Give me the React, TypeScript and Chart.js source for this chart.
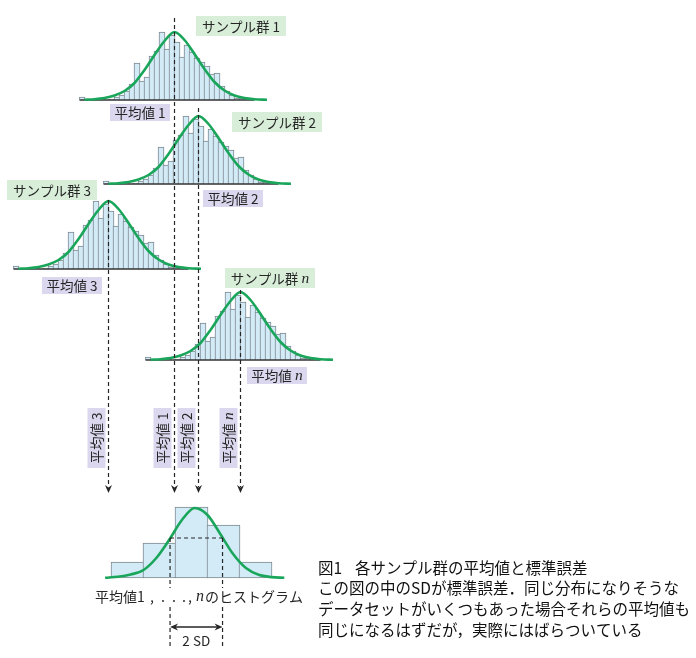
import React, { useEffect, useRef } from 'react';
import { Chart, registerables } from 'chart.js';

Chart.register(...registerables);

// ---------------- data ----------------
const groupKeys = ['1', '2', '3', 'n'];
// counts per bin of the sample histogram (the reference shows the same sample histogram for every group)
const sampleBinCounts = [3, 0, 0, 2, 2, 0, 1, 3, 5, 9, 16, 37, 19, 23, 44, 49, 68, 51, 65, 58, 43, 55, 48, 42, 38, 34, 26, 27, 14, 9, 5, 2, 2, 2, 1];
// fitted curve (bin position, height)
const sampleCurveX = [1, 3, 5, 7, 9, 11, 13, 15, 17, 19, 21, 23, 25, 27, 29, 31, 33, 35, 37.5];
const sampleCurveY = [0.3, 0.8, 2, 4.5, 9, 17, 30, 45, 59, 68, 60, 46, 31, 18, 9.5, 4.5, 2, 0.8, 0.2];
const groupMeans = [19, 19, 19, 19];

// histogram of the group means
const meanBinCenters = [0.5, 1.5, 2.5, 3.5, 4.5];
const meanBinCounts = [16, 35, 71, 53, 16];
const meanCurveX = [-0.2, 0.2, 0.6, 1.0, 1.4, 1.8, 2.2, 2.6, 3.0, 3.4, 3.8, 4.2, 4.6, 5.0, 5.4];
const meanCurveY = [0.3, 1.2, 3.5, 8, 20, 38, 58, 70, 63, 44, 24, 10, 3.2, 0.9, 0.2];
const sdBounds = [1.83, 3.47];
const sdLevel = 40;

// texts
const sampleLabel = 'サンプル群 ';
const meanLabel = '平均値 ';
const captionTitleA = '図1';
const captionTitleB = '各サンプル群の平均値と標準誤差';
const captionLines = [
  'この図の中のSDが標準誤差．同じ分布になりそうな',
  'データセットがいくつもあった場合それらの平均値も',
  '同じになるはずだが，実際にはばらついている',
];

// ---------------- layout / style ----------------
const W = 696;
const H = 658;
const FONT = '"Noto Sans CJK JP", "Noto Sans", sans-serif';
const SERIF_IT = '"Liberation Serif", "DejaVu Serif", serif';
const GREEN = '#1aa65a';
const BAR_FILL = '#d2ebf7';
const BAR_EDGE = '#7d8890';
const INK = '#262626';
const LABEL_INK = '#262626';
const SAMPLE_BOX = '#d8eed9';
const MEAN_BOX = '#dbd7ee';

const HIST_X_MIN = -0.1;
const HIST_X_MAX = 38.9; // 5 px per bin -> 195 px
const HIST_Y_MIN = -4;
const HIST_Y_MAX = 78;
const HIST_W = 195;
const HIST_H = 82;

const groupLayout = [
  { left: 79, baseline: 100, lineTop: 18, sampleBox: [196, 16], meanBox: [110, 104] },
  { left: 103, baseline: 184, lineTop: 108, sampleBox: [232, 112], meanBox: [203, 190] },
  { left: 13, baseline: 269, lineTop: 200, sampleBox: [7, 180], meanBox: [42, 277] },
  { left: 145, baseline: 360, lineTop: 290, sampleBox: [225, 268], meanBox: [247, 367] },
];
const ARROW_TIP_Y = 493;
const VLABEL_TOP = 408;

const B_X_MIN = -0.515625;
const B_X_MAX = 5.890625; // 32 px per unit -> 205 px
const B_Y_MIN = -4;
const B_Y_MAX = 75;
const B_LEFT = 95;
const B_BASE = 578;
const B_W = 205;
const B_H = 79;

type Seg = { t: string; italic?: boolean };

function drawSegs(ctx: CanvasRenderingContext2D, segs: Seg[], x: number, y: number, size: number, align: 'left' | 'center', color = LABEL_INK) {
  const fonts = segs.map((s) => (s.italic ? `italic ${size + 2}px ${SERIF_IT}` : `${size}px ${FONT}`));
  const widths = segs.map((s, i) => {
    ctx.font = fonts[i];
    return ctx.measureText(s.t).width;
  });
  const total = widths.reduce((a, b) => a + b, 0);
  let cx = align === 'center' ? x - total / 2 : x;
  ctx.textAlign = 'left';
  ctx.textBaseline = 'middle';
  ctx.fillStyle = color;
  segs.forEach((s, i) => {
    ctx.font = fonts[i];
    ctx.fillText(s.t, cx, y);
    cx += widths[i];
  });
}

function keySegs(prefix: string, key: string): Seg[] {
  return [{ t: prefix }, { t: key, italic: key === 'n' }];
}

function histConfig(counts: number[], cx: number[], cy: number[]): any {
  return {
    type: 'bar',
    data: {
      datasets: [
        {
          type: 'line',
          data: cx.map((x, i) => ({ x, y: cy[i] })),
          borderColor: GREEN,
          borderWidth: 2.6,
          pointRadius: 0,
          cubicInterpolationMode: 'monotone',
          fill: false,
          order: 1,
        },
        {
          type: 'line',
          data: [
            { x: 0, y: 0 },
            { x: counts.length, y: 0 },
          ],
          borderColor: '#333',
          borderWidth: 1.4,
          pointRadius: 0,
          fill: false,
          order: 2,
        },
        {
          type: 'bar',
          data: counts.map((c, i) => ({ x: i + 0.5, y: c })),
          backgroundColor: BAR_FILL,
          borderColor: BAR_EDGE,
          borderWidth: 1,
          barThickness: 6,
          order: 3,
        },
      ],
    },
    options: {
      responsive: false,
      animation: false,
      events: [],
      layout: { padding: 0 },
      plugins: { legend: { display: false }, tooltip: { enabled: false } },
      scales: {
        x: { type: 'linear', display: false, min: HIST_X_MIN, max: HIST_X_MAX, offset: false },
        y: { type: 'linear', display: false, min: HIST_Y_MIN, max: HIST_Y_MAX },
      },
    },
  };
}

function bottomConfig(): any {
  return {
    type: 'bar',
    data: {
      datasets: [
        {
          type: 'line',
          data: meanCurveX.map((x, i) => ({ x, y: meanCurveY[i] })),
          borderColor: GREEN,
          borderWidth: 2.6,
          pointRadius: 0,
          cubicInterpolationMode: 'monotone',
          fill: false,
          order: 1,
        },
        {
          type: 'bar',
          data: meanBinCenters.map((x, i) => ({ x, y: meanBinCounts[i] })),
          backgroundColor: BAR_FILL,
          borderColor: BAR_EDGE,
          borderWidth: 1,
          borderSkipped: false,
          barThickness: 33,
          order: 2,
        },
      ],
    },
    options: {
      responsive: false,
      animation: false,
      events: [],
      layout: { padding: 0 },
      plugins: { legend: { display: false }, tooltip: { enabled: false } },
      scales: {
        x: { type: 'linear', display: false, min: B_X_MIN, max: B_X_MAX, offset: false },
        y: { type: 'linear', display: false, min: B_Y_MIN, max: B_Y_MAX },
      },
    },
  };
}

function drawOverlay(ctx: CanvasRenderingContext2D, hist: Chart[], bottom: Chart) {
  ctx.save();
  groupLayout.forEach((g, i) => {
    const key = groupKeys[i];
    const ch = hist[i];
    const mx = g.left + ch.scales.x.getPixelForValue(groupMeans[i]);

    // sample box
    ctx.fillStyle = SAMPLE_BOX;
    ctx.fillRect(g.sampleBox[0], g.sampleBox[1], 90, 20);
    drawSegs(ctx, keySegs(sampleLabel, key), g.sampleBox[0] + 45, g.sampleBox[1] + 10.5, 13.5, 'center');
    // mean box
    ctx.fillStyle = MEAN_BOX;
    ctx.fillRect(g.meanBox[0], g.meanBox[1], 60, 17);
    drawSegs(ctx, keySegs(meanLabel, key), g.meanBox[0] + 30, g.meanBox[1] + 9, 13.5, 'center');

    // dashed mean line
    ctx.strokeStyle = INK;
    ctx.lineWidth = 1.2;
    ctx.setLineDash([4, 3]);
    ctx.beginPath();
    ctx.moveTo(mx, g.lineTop);
    ctx.lineTo(mx, ARROW_TIP_Y - 6);
    ctx.stroke();
    ctx.setLineDash([]);
    // arrow head
    ctx.fillStyle = INK;
    ctx.beginPath();
    ctx.moveTo(mx, ARROW_TIP_Y);
    ctx.lineTo(mx - 3.5, ARROW_TIP_Y - 8);
    ctx.lineTo(mx, ARROW_TIP_Y - 5.5);
    ctx.lineTo(mx + 3.5, ARROW_TIP_Y - 8);
    ctx.closePath();
    ctx.fill();

    // vertical label
    const bx = mx - 3 - 18;
    ctx.fillStyle = MEAN_BOX;
    ctx.fillRect(bx, VLABEL_TOP, 18, 60);
    ctx.save();
    ctx.translate(bx + 9, VLABEL_TOP + 30);
    ctx.rotate(-Math.PI / 2);
    drawSegs(ctx, keySegs(meanLabel, key), 0, 0.5, 13.5, 'center');
    ctx.restore();
  });

  // bottom histogram guides
  const bTop = B_BASE - B_Y_MAX;
  const sx = sdBounds.map((v) => B_LEFT + bottom.scales.x.getPixelForValue(v));
  const sy = bTop + bottom.scales.y.getPixelForValue(sdLevel);
  ctx.strokeStyle = INK;
  ctx.lineWidth = 1.2;
  ctx.setLineDash([4, 3]);
  ctx.beginPath();
  ctx.moveTo(sx[0], sy);
  ctx.lineTo(sx[1], sy);
  sx.forEach((x) => {
    ctx.moveTo(x, sy);
    ctx.lineTo(x, 588);
    ctx.moveTo(x, 607);
    ctx.lineTo(x, 648);
  });
  ctx.stroke();
  ctx.setLineDash([]);

  // 2SD double arrow
  const ay = 627;
  ctx.lineWidth = 1.3;
  ctx.beginPath();
  ctx.moveTo(sx[0] + 4, ay);
  ctx.lineTo(sx[1] - 4, ay);
  ctx.stroke();
  ctx.fillStyle = INK;
  ctx.beginPath();
  ctx.moveTo(sx[0], ay);
  ctx.lineTo(sx[0] + 8, ay - 3.5);
  ctx.lineTo(sx[0] + 5.5, ay);
  ctx.lineTo(sx[0] + 8, ay + 3.5);
  ctx.closePath();
  ctx.moveTo(sx[1], ay);
  ctx.lineTo(sx[1] - 8, ay - 3.5);
  ctx.lineTo(sx[1] - 5.5, ay);
  ctx.lineTo(sx[1] - 8, ay + 3.5);
  ctx.closePath();
  ctx.fill();
  drawSegs(ctx, [{ t: '2 SD' }], (sx[0] + sx[1]) / 2, 640.5, 13.5, 'center');

  // histogram caption under the bottom chart
  const pieces: { t: string; x: number; italic?: boolean }[] = [
    { t: '平均値1', x: 95 },
    { t: ',', x: 150 },
    { t: '.', x: 161 },
    { t: '.', x: 172 },
    { t: '.', x: 182 },
    { t: ',', x: 188 },
    { t: 'n', x: 196, italic: true },
    { t: 'のヒストグラム', x: 205 },
  ];
  pieces.forEach((p) => drawSegs(ctx, [{ t: p.t, italic: p.italic }], p.x, 597, 14, 'left'));

  // figure caption
  drawSegs(ctx, [{ t: captionTitleA }], 318, 568, 15.5, 'left', '#111');
  drawSegs(ctx, [{ t: captionTitleB }], 355, 568, 15.5, 'left', '#111');
  captionLines.forEach((line, i) => drawSegs(ctx, [{ t: line }], 318, 588.5 + i * 21, 15.5, 'left', '#111'));
  ctx.restore();
}

export default function App() {
  const histRefs = useRef<(HTMLCanvasElement | null)[]>([]);
  const bottomRef = useRef<HTMLCanvasElement | null>(null);
  const overlayRef = useRef<HTMLCanvasElement | null>(null);

  useEffect(() => {
    document.body.style.margin = '0';
    const charts: Chart[] = [];
    const hist = groupLayout.map((g, i) => {
      const c = new Chart(histRefs.current[i] as HTMLCanvasElement, histConfig(sampleBinCounts, sampleCurveX, sampleCurveY));
      charts.push(c);
      return c;
    });
    const bottom = new Chart(bottomRef.current as HTMLCanvasElement, bottomConfig());
    charts.push(bottom);
    const overlay = new Chart(overlayRef.current as HTMLCanvasElement, {
      type: 'scatter',
      data: { datasets: [] },
      options: {
        responsive: false,
        animation: false,
        events: [],
        layout: { padding: 0 },
        plugins: { legend: { display: false }, tooltip: { enabled: false } },
        scales: {
          x: { type: 'linear', display: false, min: 0, max: W },
          y: { type: 'linear', display: false, min: 0, max: H, reverse: true },
        },
      },
      plugins: [
        {
          id: 'figureAnnotations',
          afterDraw(chart: Chart) {
            drawOverlay(chart.ctx, hist, bottom);
          },
        },
      ],
    } as any);
    charts.push(overlay);
    return () => charts.forEach((c) => c.destroy());
  }, []);

  return (
    <div style={{ position: 'relative', width: W, height: H, background: '#fff', overflow: 'hidden' }}>
      {groupLayout.map((g, i) => (
        <canvas
          key={i}
          ref={(el) => {
            histRefs.current[i] = el;
          }}
          width={HIST_W}
          height={HIST_H}
          style={{ position: 'absolute', left: g.left, top: g.baseline - HIST_Y_MAX, width: HIST_W, height: HIST_H }}
        />
      ))}
      <canvas
        ref={bottomRef}
        width={B_W}
        height={B_H}
        style={{ position: 'absolute', left: B_LEFT, top: B_BASE - B_Y_MAX, width: B_W, height: B_H }}
      />
      <canvas
        ref={overlayRef}
        width={W}
        height={H}
        style={{ position: 'absolute', left: 0, top: 0, width: W, height: H, zIndex: 2, pointerEvents: 'none' }}
      />
    </div>
  );
}
